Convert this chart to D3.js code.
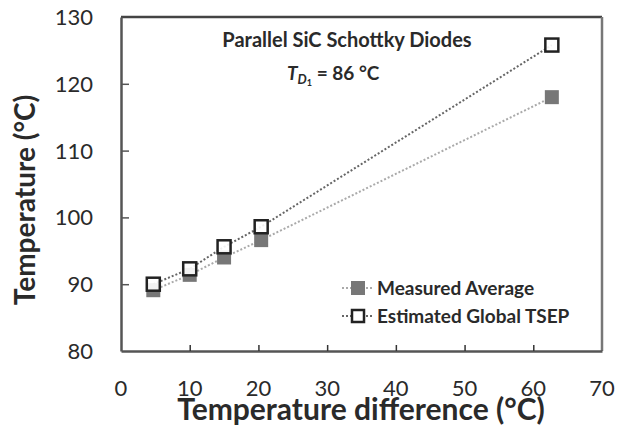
<!DOCTYPE html>
<html>
<head>
<meta charset="utf-8">
<script src="https://cdn.jsdelivr.net/npm/d3@7"></script>
<style>
  body { margin: 0; background: #fff; }
  text { font-family: Lato, "Open Sans", sans-serif; fill: #2a2a2a; }
</style>
</head>
<body>
<svg id="chart" width="618" height="433"></svg>
<script>
// values
var tempDiff = [4.7, 10, 15, 20.4, 62.7];
var measuredAvg = [89.1, 91.4, 94, 96.6, 118];
var estimatedTsep = [90, 92.3, 95.6, 98.6, 125.8];
var xTicks = [0, 10, 20, 30, 40, 50, 60, 70];
var yTicks = [80, 90, 100, 110, 120, 130];

var svg = d3.select("#chart");

var x = d3.scaleLinear().domain([0, 70]).range([121, 602]);
var y = d3.scaleLinear().domain([80, 130]).range([351, 17]);

// frame
svg.append("line").attr("x1", 121).attr("x2", 602).attr("y1", 17).attr("y2", 17)
  .attr("stroke", "#444").attr("stroke-width", 2.5);
svg.append("line").attr("x1", 602).attr("x2", 602).attr("y1", 17).attr("y2", 351)
  .attr("stroke", "#777").attr("stroke-width", 2.5);

// axes with inward ticks
var xAxis = svg.append("g").attr("transform", "translate(0,351)")
  .call(d3.axisBottom(x).tickValues(xTicks.slice(1, -1)).tickSize(-6).tickSizeOuter(0).tickFormat(""));
xAxis.select(".domain").attr("stroke", "#555").attr("stroke-width", 2.5);
xAxis.selectAll(".tick line").attr("stroke", "#333").attr("stroke-width", 1.5);

var yAxis = svg.append("g").attr("transform", "translate(121,0)")
  .call(d3.axisLeft(y).tickValues(yTicks.slice(1, -1)).tickSize(-8).tickSizeOuter(0).tickFormat(""));
yAxis.select(".domain").attr("stroke", "#555").attr("stroke-width", 2.5);
yAxis.selectAll(".tick line").attr("stroke", "#555").attr("stroke-width", 1.5);

// tick labels sit a bit away from the axes
svg.append("g").selectAll("text").data(xTicks).enter().append("text")
  .attr("x", function(d) { return x(d); })
  .attr("y", 396)
  .attr("text-anchor", "middle")
  .attr("font-size", 22)
  .text(function(d) { return d; });

svg.append("g").selectAll("text").data(yTicks).enter().append("text")
  .attr("x", 93)
  .attr("y", function(d) { return y(d) + 8; })
  .attr("text-anchor", "end")
  .attr("font-size", 22)
  .text(function(d) { return d; });

// axis titles
svg.append("text")
  .attr("x", 361).attr("y", 420)
  .attr("text-anchor", "middle")
  .attr("font-size", 30).attr("font-weight", "bold")
  .text("Temperature difference (°C)");

svg.append("text")
  .attr("transform", "translate(35,200) rotate(-90)")
  .attr("text-anchor", "middle")
  .attr("font-size", 28).attr("font-weight", "bold")
  .text("Temperature (°C)");

// dotted lines
var line = d3.line()
  .x(function(d, i) { return x(tempDiff[i]); })
  .y(function(d) { return y(d); });

svg.append("path").datum(measuredAvg).attr("d", line)
  .attr("fill", "none").attr("stroke", "#aaa").attr("stroke-width", 2)
  .attr("stroke-dasharray", "2,2");
svg.append("path").datum(estimatedTsep).attr("d", line)
  .attr("fill", "none").attr("stroke", "#666").attr("stroke-width", 2)
  .attr("stroke-dasharray", "2,2");

// markers
svg.append("g").selectAll("rect").data(measuredAvg).enter().append("rect")
  .attr("x", function(d, i) { return x(tempDiff[i]) - 7; })
  .attr("y", function(d) { return y(d) - 7; })
  .attr("width", 14).attr("height", 14)
  .attr("fill", "#777");

svg.append("g").selectAll("rect").data(estimatedTsep).enter().append("rect")
  .attr("x", function(d, i) { return x(tempDiff[i]) - 6.5; })
  .attr("y", function(d) { return y(d) - 6.5; })
  .attr("width", 13).attr("height", 13)
  .attr("fill", "#fff").attr("fill-opacity", 0.9)
  .attr("stroke", "#222").attr("stroke-width", 2.5);

// annotations
svg.append("text")
  .attr("x", 347).attr("y", 47)
  .attr("text-anchor", "middle")
  .attr("font-size", 20).attr("font-weight", "bold")
  .text("Parallel SiC Schottky Diodes");

var tLabel = svg.append("text")
  .attr("x", 287).attr("y", 80)
  .attr("font-size", 19).attr("font-weight", "bold");
tLabel.append("tspan").attr("font-style", "italic").text("T");
tLabel.append("tspan").attr("font-style", "italic").attr("font-size", 13).attr("dy", 4).text("D");
tLabel.append("tspan").attr("font-size", 9).attr("dy", 2).text("1");
tLabel.append("tspan").attr("dy", -6).text(" = 86 °C");

// legend
var legend = [
  { label: "Measured Average", fill: "#777", stroke: "none", line: "#aaa" },
  { label: "Estimated Global TSEP", fill: "#fff", stroke: "#222", line: "#666" }
];
var lg = svg.append("g").selectAll("g").data(legend).enter().append("g")
  .attr("transform", function(d, i) { return "translate(358," + (288 + i * 28) + ")"; });
lg.append("line").attr("x1", -16).attr("x2", 16)
  .attr("stroke", function(d) { return d.line; }).attr("stroke-width", 2)
  .attr("stroke-dasharray", "2,2");
lg.append("rect")
  .attr("x", function(d) { return d.stroke === "none" ? -7 : -6; })
  .attr("y", function(d) { return d.stroke === "none" ? -7 : -6; })
  .attr("width", function(d) { return d.stroke === "none" ? 14 : 12; })
  .attr("height", function(d) { return d.stroke === "none" ? 14 : 12; })
  .attr("fill", function(d) { return d.fill; })
  .attr("stroke", function(d) { return d.stroke; }).attr("stroke-width", 2.5);
lg.append("text").attr("x", 19).attr("y", 7)
  .attr("font-size", 19).attr("font-weight", "bold")
  .text(function(d) { return d.label; });
</script>
</body>
</html>
